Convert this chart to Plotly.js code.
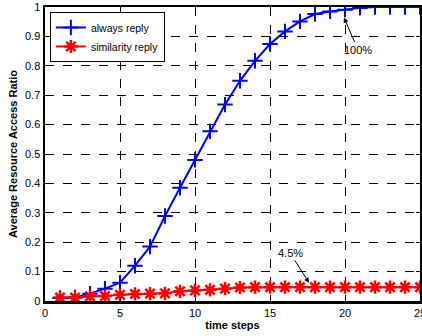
<!DOCTYPE html>
<html><head><meta charset="utf-8">
<script src="https://cdn.plot.ly/plotly-3.0.1.min.js"></script>
<style>html,body{margin:0;padding:0;background:#fff}#chart{width:422px;height:336px}</style>
</head><body><div id="chart"></div>
<script>
const timeSteps = [1,2,3,4,5,6,7,8,9,10,11,12,13,14,15,16,17,18,19,20,21,22,23,24,25];
const alwaysReply = [0.01,0.012,0.025,0.042,0.062,0.12,0.185,0.289,0.385,0.48,0.577,0.668,0.749,0.817,0.874,0.917,0.951,0.976,0.985,0.991,0.997,1.0,1.0,1.0,1.0];
const similarityReply = [0.012,0.012,0.016,0.017,0.021,0.024,0.025,0.026,0.033,0.036,0.038,0.042,0.046,0.047,0.047,0.047,0.047,0.047,0.047,0.047,0.047,0.047,0.047,0.047,0.047];
const seriesNames = ['always reply','similarity reply'];

const font = 'Liberation Sans, Arial, sans-serif';
const data = [
  {x: timeSteps, y: alwaysReply, name: seriesNames[0], mode: 'lines+markers',
   line: {color: '#0000ff', width: 2},
   marker: {symbol: 'cross-thin-open', size: 11, color: '#0000ff', line: {color: '#0000ff', width: 2}}},
  {x: timeSteps, y: similarityReply, name: seriesNames[1], mode: 'lines+markers',
   line: {color: '#ff0000', width: 2},
   marker: {symbol: 'asterisk-open', size: 11, color: '#ff0000', line: {color: '#ff0000', width: 2.5}}}
];
const axisCommon = {
  showline: true, linecolor: '#000', linewidth: 2.5, mirror: 'ticks',
  ticks: 'inside', ticklen: 4, tickcolor: '#000', tickwidth: 1,
  showgrid: true, gridcolor: '#000', gridwidth: 1, griddash: 'dash',
  zeroline: false, ticklabeloverflow: 'allow',
  tickfont: {family: font, size: 11, color: '#000'}
};
const layout = {
  width: 422, height: 336,
  margin: {l: 45, r: 2, t: 7, b: 35},
  paper_bgcolor: '#fff', plot_bgcolor: '#fff',
  showlegend: true,
  legend: {x: 0.013, y: 0.983, xanchor: 'left', yanchor: 'top',
    bgcolor: '#fff', bordercolor: '#000', borderwidth: 1,
    font: {family: font, size: 10.5, color: '#000'}, tracegroupgap: 0, itemwidth: 30},
  xaxis: Object.assign({}, axisCommon, {range: [0, 25], tickvals: [0,5,10,15,20,25],
    title: {text: '<b>time steps</b>', font: {family: font, size: 11, color: '#000'}, standoff: 4}}),
  yaxis: Object.assign({}, axisCommon, {range: [0, 1], tickvals: [0,0.1,0.2,0.3,0.4,0.5,0.6,0.7,0.8,0.9,1],
    ticktext: ['0','0.1','0.2','0.3','0.4','0.5','0.6','0.7','0.8','0.9','1'],
    title: {text: '<b>Average Resource Access Ratio</b>', font: {family: font, size: 11, color: '#000'}, standoff: 5}}),
  annotations: [
    {x: 19.93, y: 0.964, xref: 'x', yref: 'y', text: '100%', showarrow: true,
     arrowhead: 2, arrowsize: 1, arrowwidth: 1, arrowcolor: '#000', ax: 14, ay: 32,
     font: {family: font, size: 11, color: '#000'}},
    {x: 17.6, y: 0.062, xref: 'x', yref: 'y', text: '4.5%', showarrow: true,
     arrowhead: 2, arrowsize: 1, arrowwidth: 1, arrowcolor: '#000', ax: -19, ay: -30,
     font: {family: font, size: 11, color: '#000'}}
  ]
};
Plotly.newPlot('chart', data, layout, {displayModeBar: false, staticPlot: true});
</script></body></html>
